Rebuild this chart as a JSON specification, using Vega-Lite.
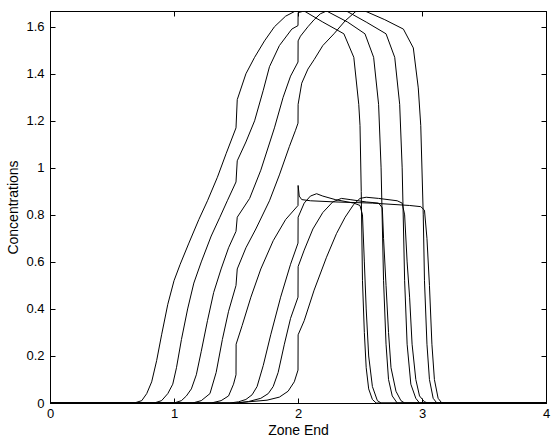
{
 "$schema": "https://vega.github.io/schema/vega-lite/v6.json",
 "width": 496, "height": 392,
 "autosize": {"type": "none"},
 "padding": {"left": 50, "top": 11, "right": 6, "bottom": 38},
 "background": "white",
 "config": {
  "view": {"stroke": "black", "strokeWidth": 1},
  "axis": {"domainColor": "black", "tickColor": "black", "labelColor": "black", "titleColor": "black",
   "tickSize": -5, "labelFont": "Liberation Sans", "labelFontSize": 13, "labelFlush": false,
   "titleFont": "Liberation Sans", "titleFontSize": 14, "titleFontWeight": "normal", "grid": false}
 },
 "data": {"values": [
  {"c":"U1","x":0,"y":0},{"c":"U1","x":0.68,"y":0},{"c":"U1","x":0.74,"y":0.01},{"c":"U1","x":0.78,"y":0.04},{"c":"U1","x":0.82,"y":0.09},{"c":"U1","x":0.86,"y":0.18},{"c":"U1","x":0.9,"y":0.29},{"c":"U1","x":0.95,"y":0.42},{"c":"U1","x":1.0,"y":0.52},{"c":"U1","x":1.05,"y":0.59},{"c":"U1","x":1.12,"y":0.68},{"c":"U1","x":1.2,"y":0.78},{"c":"U1","x":1.27,"y":0.86},{"c":"U1","x":1.35,"y":0.96},{"c":"U1","x":1.42,"y":1.06},{"c":"U1","x":1.5,"y":1.17},{"c":"U1","x":1.51,"y":1.29},{"c":"U1","x":1.58,"y":1.4},{"c":"U1","x":1.65,"y":1.47},{"c":"U1","x":1.73,"y":1.54},{"c":"U1","x":1.81,"y":1.6},{"c":"U1","x":1.9,"y":1.645},{"c":"U1","x":1.98,"y":1.667},{"c":"U1","x":2.05,"y":1.667},{"c":"U1","x":2.2,"y":1.62},{"c":"U1","x":2.37,"y":1.57},{"c":"U1","x":2.45,"y":1.47},{"c":"U1","x":2.49,"y":1.27},{"c":"U1","x":2.5,"y":1.18},{"c":"U1","x":2.51,"y":0.9},{"c":"U1","x":2.52,"y":0.52},{"c":"U1","x":2.535,"y":0.3},{"c":"U1","x":2.55,"y":0.15},{"c":"U1","x":2.57,"y":0.06},{"c":"U1","x":2.6,"y":0.015},{"c":"U1","x":2.63,"y":0},{"c":"U1","x":4,"y":0},
  {"c":"U2","x":0,"y":0},{"c":"U2","x":0.84,"y":0},{"c":"U2","x":0.9,"y":0.01},{"c":"U2","x":0.95,"y":0.04},{"c":"U2","x":0.99,"y":0.08},{"c":"U2","x":1.02,"y":0.15},{"c":"U2","x":1.06,"y":0.27},{"c":"U2","x":1.11,"y":0.4},{"c":"U2","x":1.16,"y":0.51},{"c":"U2","x":1.22,"y":0.6},{"c":"U2","x":1.3,"y":0.71},{"c":"U2","x":1.37,"y":0.79},{"c":"U2","x":1.43,"y":0.86},{"c":"U2","x":1.5,"y":0.94},{"c":"U2","x":1.51,"y":1.03},{"c":"U2","x":1.58,"y":1.11},{"c":"U2","x":1.65,"y":1.2},{"c":"U2","x":1.72,"y":1.33},{"c":"U2","x":1.77,"y":1.43},{"c":"U2","x":1.85,"y":1.52},{"c":"U2","x":1.95,"y":1.59},{"c":"U2","x":2.0,"y":1.605},{"c":"U2","x":2.001,"y":1.66},{"c":"U2","x":2.05,"y":1.667},{"c":"U2","x":2.23,"y":1.667},{"c":"U2","x":2.4,"y":1.62},{"c":"U2","x":2.54,"y":1.57},{"c":"U2","x":2.61,"y":1.47},{"c":"U2","x":2.65,"y":1.27},{"c":"U2","x":2.67,"y":1.0},{"c":"U2","x":2.69,"y":0.52},{"c":"U2","x":2.71,"y":0.25},{"c":"U2","x":2.73,"y":0.1},{"c":"U2","x":2.76,"y":0.03},{"c":"U2","x":2.8,"y":0},{"c":"U2","x":4,"y":0},
  {"c":"U3","x":0,"y":0},{"c":"U3","x":1.0,"y":0},{"c":"U3","x":1.06,"y":0.01},{"c":"U3","x":1.1,"y":0.03},{"c":"U3","x":1.14,"y":0.06},{"c":"U3","x":1.18,"y":0.12},{"c":"U3","x":1.22,"y":0.22},{"c":"U3","x":1.27,"y":0.35},{"c":"U3","x":1.32,"y":0.47},{"c":"U3","x":1.38,"y":0.57},{"c":"U3","x":1.44,"y":0.66},{"c":"U3","x":1.5,"y":0.73},{"c":"U3","x":1.51,"y":0.79},{"c":"U3","x":1.61,"y":0.87},{"c":"U3","x":1.7,"y":0.99},{"c":"U3","x":1.81,"y":1.17},{"c":"U3","x":1.88,"y":1.3},{"c":"U3","x":1.94,"y":1.39},{"c":"U3","x":2.0,"y":1.45},{"c":"U3","x":2.001,"y":1.54},{"c":"U3","x":2.02,"y":1.56},{"c":"U3","x":2.08,"y":1.6},{"c":"U3","x":2.13,"y":1.63},{"c":"U3","x":2.18,"y":1.655},{"c":"U3","x":2.23,"y":1.667},{"c":"U3","x":2.39,"y":1.667},{"c":"U3","x":2.55,"y":1.62},{"c":"U3","x":2.71,"y":1.57},{"c":"U3","x":2.78,"y":1.47},{"c":"U3","x":2.82,"y":1.27},{"c":"U3","x":2.84,"y":1.0},{"c":"U3","x":2.86,"y":0.52},{"c":"U3","x":2.88,"y":0.25},{"c":"U3","x":2.91,"y":0.08},{"c":"U3","x":2.95,"y":0.02},{"c":"U3","x":2.98,"y":0},{"c":"U3","x":4,"y":0},
  {"c":"U4","x":0,"y":0},{"c":"U4","x":1.15,"y":0},{"c":"U4","x":1.22,"y":0.01},{"c":"U4","x":1.29,"y":0.04},{"c":"U4","x":1.34,"y":0.13},{"c":"U4","x":1.39,"y":0.27},{"c":"U4","x":1.44,"y":0.39},{"c":"U4","x":1.5,"y":0.5},{"c":"U4","x":1.51,"y":0.57},{"c":"U4","x":1.58,"y":0.66},{"c":"U4","x":1.66,"y":0.74},{"c":"U4","x":1.77,"y":0.86},{"c":"U4","x":1.85,"y":0.97},{"c":"U4","x":1.93,"y":1.09},{"c":"U4","x":1.98,"y":1.16},{"c":"U4","x":2.0,"y":1.19},{"c":"U4","x":2.001,"y":1.27},{"c":"U4","x":2.03,"y":1.36},{"c":"U4","x":2.08,"y":1.42},{"c":"U4","x":2.13,"y":1.46},{"c":"U4","x":2.2,"y":1.52},{"c":"U4","x":2.29,"y":1.57},{"c":"U4","x":2.38,"y":1.625},{"c":"U4","x":2.47,"y":1.667},{"c":"U4","x":2.54,"y":1.667},{"c":"U4","x":2.7,"y":1.63},{"c":"U4","x":2.85,"y":1.59},{"c":"U4","x":2.93,"y":1.51},{"c":"U4","x":2.97,"y":1.34},{"c":"U4","x":2.99,"y":1.18},{"c":"U4","x":3.01,"y":0.8},{"c":"U4","x":3.02,"y":0.52},{"c":"U4","x":3.04,"y":0.25},{"c":"U4","x":3.06,"y":0.1},{"c":"U4","x":3.09,"y":0.02},{"c":"U4","x":3.12,"y":0},{"c":"U4","x":4,"y":0},
  {"c":"L1","x":0,"y":0},{"c":"L1","x":1.3,"y":0},{"c":"L1","x":1.38,"y":0.01},{"c":"L1","x":1.44,"y":0.03},{"c":"L1","x":1.48,"y":0.08},{"c":"L1","x":1.5,"y":0.12},{"c":"L1","x":1.501,"y":0.25},{"c":"L1","x":1.55,"y":0.33},{"c":"L1","x":1.62,"y":0.45},{"c":"L1","x":1.7,"y":0.57},{"c":"L1","x":1.8,"y":0.69},{"c":"L1","x":1.9,"y":0.78},{"c":"L1","x":2.0,"y":0.84},{"c":"L1","x":2.001,"y":0.925},{"c":"L1","x":2.01,"y":0.88},{"c":"L1","x":2.03,"y":0.865},{"c":"L1","x":2.1,"y":0.86},{"c":"L1","x":2.3,"y":0.855},{"c":"L1","x":2.6,"y":0.85},{"c":"L1","x":2.9,"y":0.84},{"c":"L1","x":2.99,"y":0.835},{"c":"L1","x":3.02,"y":0.82},{"c":"L1","x":3.04,"y":0.7},{"c":"L1","x":3.06,"y":0.5},{"c":"L1","x":3.08,"y":0.25},{"c":"L1","x":3.1,"y":0.1},{"c":"L1","x":3.13,"y":0.02},{"c":"L1","x":3.16,"y":0},{"c":"L1","x":4,"y":0},
  {"c":"L2","x":0,"y":0},{"c":"L2","x":1.45,"y":0},{"c":"L2","x":1.52,"y":0.005},{"c":"L2","x":1.58,"y":0.015},{"c":"L2","x":1.63,"y":0.035},{"c":"L2","x":1.67,"y":0.07},{"c":"L2","x":1.72,"y":0.16},{"c":"L2","x":1.78,"y":0.29},{"c":"L2","x":1.86,"y":0.45},{"c":"L2","x":1.94,"y":0.59},{"c":"L2","x":2.0,"y":0.68},{"c":"L2","x":2.001,"y":0.79},{"c":"L2","x":2.05,"y":0.85},{"c":"L2","x":2.1,"y":0.88},{"c":"L2","x":2.15,"y":0.89},{"c":"L2","x":2.2,"y":0.88},{"c":"L2","x":2.3,"y":0.865},{"c":"L2","x":2.45,"y":0.85},{"c":"L2","x":2.5,"y":0.84},{"c":"L2","x":2.52,"y":0.8},{"c":"L2","x":2.535,"y":0.6},{"c":"L2","x":2.55,"y":0.4},{"c":"L2","x":2.57,"y":0.2},{"c":"L2","x":2.6,"y":0.07},{"c":"L2","x":2.64,"y":0.01},{"c":"L2","x":2.67,"y":0},{"c":"L2","x":4,"y":0},
  {"c":"L3","x":0,"y":0},{"c":"L3","x":1.5,"y":0},{"c":"L3","x":1.6,"y":0.006},{"c":"L3","x":1.7,"y":0.02},{"c":"L3","x":1.76,"y":0.04},{"c":"L3","x":1.8,"y":0.07},{"c":"L3","x":1.84,"y":0.13},{"c":"L3","x":1.89,"y":0.25},{"c":"L3","x":1.94,"y":0.36},{"c":"L3","x":2.0,"y":0.45},{"c":"L3","x":2.001,"y":0.58},{"c":"L3","x":2.05,"y":0.65},{"c":"L3","x":2.12,"y":0.74},{"c":"L3","x":2.2,"y":0.81},{"c":"L3","x":2.28,"y":0.855},{"c":"L3","x":2.35,"y":0.87},{"c":"L3","x":2.42,"y":0.865},{"c":"L3","x":2.55,"y":0.855},{"c":"L3","x":2.65,"y":0.85},{"c":"L3","x":2.68,"y":0.83},{"c":"L3","x":2.69,"y":0.7},{"c":"L3","x":2.71,"y":0.5},{"c":"L3","x":2.73,"y":0.3},{"c":"L3","x":2.75,"y":0.15},{"c":"L3","x":2.79,"y":0.05},{"c":"L3","x":2.83,"y":0.01},{"c":"L3","x":2.86,"y":0},{"c":"L3","x":4,"y":0},
  {"c":"L4","x":0,"y":0},{"c":"L4","x":1.5,"y":0},{"c":"L4","x":1.6,"y":0.005},{"c":"L4","x":1.75,"y":0.012},{"c":"L4","x":1.85,"y":0.025},{"c":"L4","x":1.92,"y":0.05},{"c":"L4","x":1.97,"y":0.09},{"c":"L4","x":2.0,"y":0.14},{"c":"L4","x":2.001,"y":0.29},{"c":"L4","x":2.05,"y":0.35},{"c":"L4","x":2.13,"y":0.48},{"c":"L4","x":2.23,"y":0.62},{"c":"L4","x":2.31,"y":0.72},{"c":"L4","x":2.38,"y":0.79},{"c":"L4","x":2.45,"y":0.845},{"c":"L4","x":2.5,"y":0.87},{"c":"L4","x":2.55,"y":0.875},{"c":"L4","x":2.65,"y":0.87},{"c":"L4","x":2.8,"y":0.86},{"c":"L4","x":2.84,"y":0.85},{"c":"L4","x":2.86,"y":0.8},{"c":"L4","x":2.88,"y":0.6},{"c":"L4","x":2.9,"y":0.45},{"c":"L4","x":2.92,"y":0.25},{"c":"L4","x":2.95,"y":0.1},{"c":"L4","x":2.98,"y":0.03},{"c":"L4","x":3.02,"y":0.005},{"c":"L4","x":3.05,"y":0},{"c":"L4","x":4,"y":0}
 ]},
 "layer": [
  {
   "mark": {"type": "line", "color": "black", "strokeWidth": 1, "clip": true},
   "encoding": {
    "x": {"field": "x", "type": "quantitative", "scale": {"domain": [0, 4], "nice": false, "zero": false},
     "axis": {"orient": "bottom", "values": [0, 1, 2, 3, 4], "title": "Zone End", "labelPadding": 9, "titlePadding": 3, "format": "~g"}},
    "y": {"field": "y", "type": "quantitative", "scale": {"domain": [0, 1.667], "nice": false},
     "axis": {"orient": "left", "values": [0, 0.2, 0.4, 0.6, 0.8, 1, 1.2, 1.4, 1.6], "title": "Concentrations", "labelPadding": 11, "titlePadding": 5, "format": "~g"}},
    "detail": {"field": "c", "type": "nominal"}
   }
  },
  {
   "mark": {"type": "line", "strokeOpacity": 0},
   "encoding": {
    "x": {"field": "x", "type": "quantitative", "axis": {"orient": "top", "values": [0, 1, 2, 3, 4], "labels": false, "title": null}},
    "y": {"field": "y", "type": "quantitative", "axis": {"orient": "right", "values": [0, 0.2, 0.4, 0.6, 0.8, 1, 1.2, 1.4, 1.6], "labels": false, "title": null}},
    "detail": {"field": "c", "type": "nominal"}
   }
  }
 ],
 "resolve": {"axis": {"x": "independent", "y": "independent"}}
}
